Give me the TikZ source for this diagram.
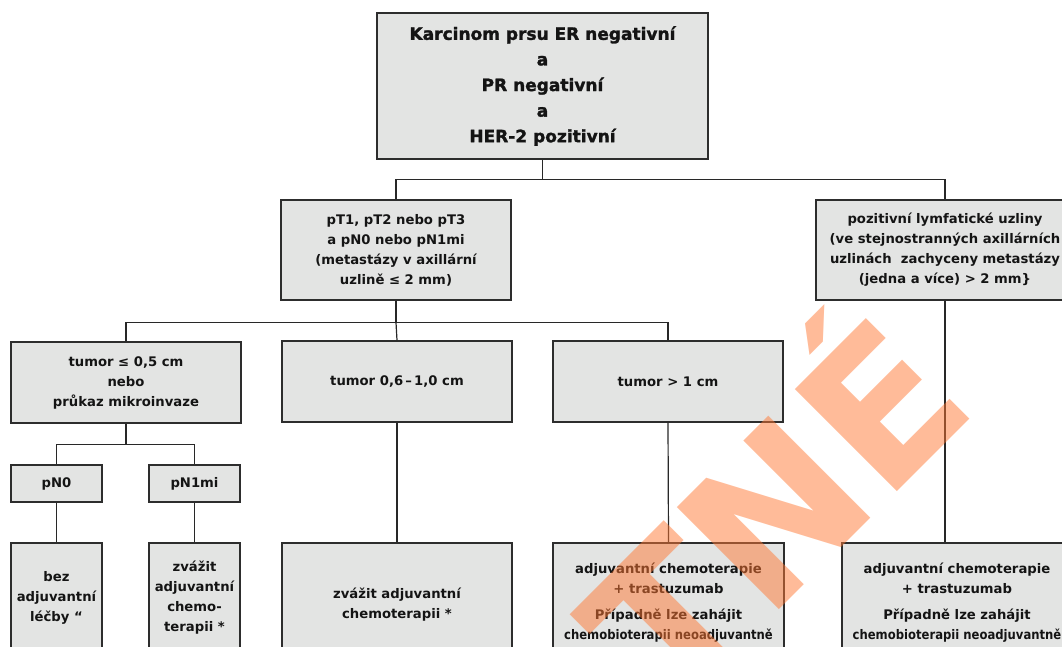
\documentclass[tikz,border=0pt]{standalone}
\usepackage{fontspec}
\setmainfont{DejaVu Sans}
\newfontfamily\bodyfont{DejaVu Sans}
\newfontfamily\narrowfont{DejaVu Sans}[FakeStretch=0.88]
\newfontfamily\headfont{DejaVu Sans}[BoldFeatures={FakeBold=1.6}]
\newfontfamily\stampface{DejaVu Sans}
\definecolor{boxfill}{RGB}{227,228,227}
\definecolor{boxline}{RGB}{45,45,45}
\definecolor{linkcol}{RGB}{40,40,40}
\definecolor{ink}{RGB}{20,20,20}
\definecolor{stamp}{RGB}{255,119,51}
\newcommand{\tightline}[1]{{\narrowfont\bfseries #1}}
\tikzset{
  box/.style={draw=boxline, line width=1.4pt, fill=boxfill, align=center,
    inner sep=0pt, text=ink, font=\bodyfont\bfseries\fontsize{13.2}{20}\selectfont},
  link/.style={draw=linkcol, line width=1.2pt},
  stampfont/.style={font=\stampface\bfseries\fontsize{198}{198}\selectfont,
    text=stamp, text opacity=0.5, rotate=45, inner sep=0pt},
}
\begin{document}
\begin{tikzpicture}[x=1pt,y=-1pt]
\useasboundingbox (0,0) rectangle (1062,646);
\clip (0,0) rectangle (1062,646);

% level 0
\node[box, minimum width=331pt, minimum height=146pt,
  font=\headfont\bfseries\fontsize{17}{25.6}\selectfont] (root) at (542.5,86)
  {Karcinom prsu ER negativní\\a\\PR negativní\\a\\HER-2 pozitivní};

% level 1
\node[box, minimum width=230pt, minimum height=100pt] (pt) at (396,250)
  {pT1, pT2 nebo pT3\\a pN0 nebo pN1mi\\(metastázy v axillární\\uzlině ≤ 2 mm)};
\node[box, minimum width=258pt, minimum height=100pt] (pos) at (945,250)
  {pozitivní lymfatické uzliny\\(ve stejnostranných axillárních\\uzlinách\ \ zachyceny metastázy\\(jedna a více) > 2 mm\}};

% level 2
\node[box, minimum width=230pt, minimum height=81pt] (ta) at (126,382.5)
  {tumor ≤ 0,5 cm\\nebo\\průkaz mikroinvaze};
\node[box, minimum width=230pt, minimum height=81pt] (tb) at (397,381.5)
  {tumor 0,6\,–\,1,0 cm};
\node[box, minimum width=230pt, minimum height=81pt] (tc) at (668,381.5)
  {tumor > 1 cm};

% level 3
\node[box, minimum width=91pt, minimum height=37pt] (n0) at (56.5,483.5) {pN0};
\node[box, minimum width=91pt, minimum height=37pt] (n1) at (194.5,483.5) {pN1mi};

% recommendations
\node[box, minimum width=91pt, minimum height=110pt] (r0) at (56.5,598)
  {bez\\adjuvantní\\léčby “};
\node[box, minimum width=91pt, minimum height=110pt] (r1) at (194.5,598)
  {zvážit\\adjuvantní\\chemo-\\terapii *};
\node[box, minimum width=230pt, minimum height=124pt] (rb) at (397,605)
  {zvážit adjuvantní\\chemoterapii *};
\node[box, minimum width=231pt, minimum height=120pt] (rc) at (668.5,603)
  {adjuvantní chemoterapie\\+ trastuzumab\\[6pt]Případně lze zahájit\\\tightline{chemobioterapii neoadjuvantně}};
\node[box, minimum width=230pt, minimum height=120pt] (rd) at (957,603)
  {adjuvantní chemoterapie\\+ trastuzumab\\[6pt]Případně lze zahájit\\\tightline{chemobioterapii neoadjuvantně}};

% connectors
\draw[link] (root.south) -- ++(0,20) coordinate (j0);
\draw[link] (pt.north) |- (j0) -| (pos.north);
\draw[link] (pt.south) -- ++(0,22) coordinate (j1);
\draw[link] (ta.north) |- (j1) -| (tc.north);
\draw[link] (j1) -- (tb.north);
\draw[link] (ta.south) -- ++(0,21) coordinate (j2);
\draw[link] (n0.north) |- (j2) -| (n1.north);
\draw[link] (n0.south) -- (r0.north);
\draw[link] (n1.south) -- (r1.north);
\draw[link] (tb.south) -- (rb.north);
\draw[link] (tc.south) -- (rc.north);
\draw[link] (pos.south) -- (pos.south |- rd.north);

% stamp across the sheet
\coordinate (stampjoin) at (884,505);
\node[stampfont, anchor=base east] (stampa) at (stampjoin) {TN};
\node[stampfont, anchor=base west] (stampb) at (stampjoin) {É};
\end{tikzpicture}
\end{document}
